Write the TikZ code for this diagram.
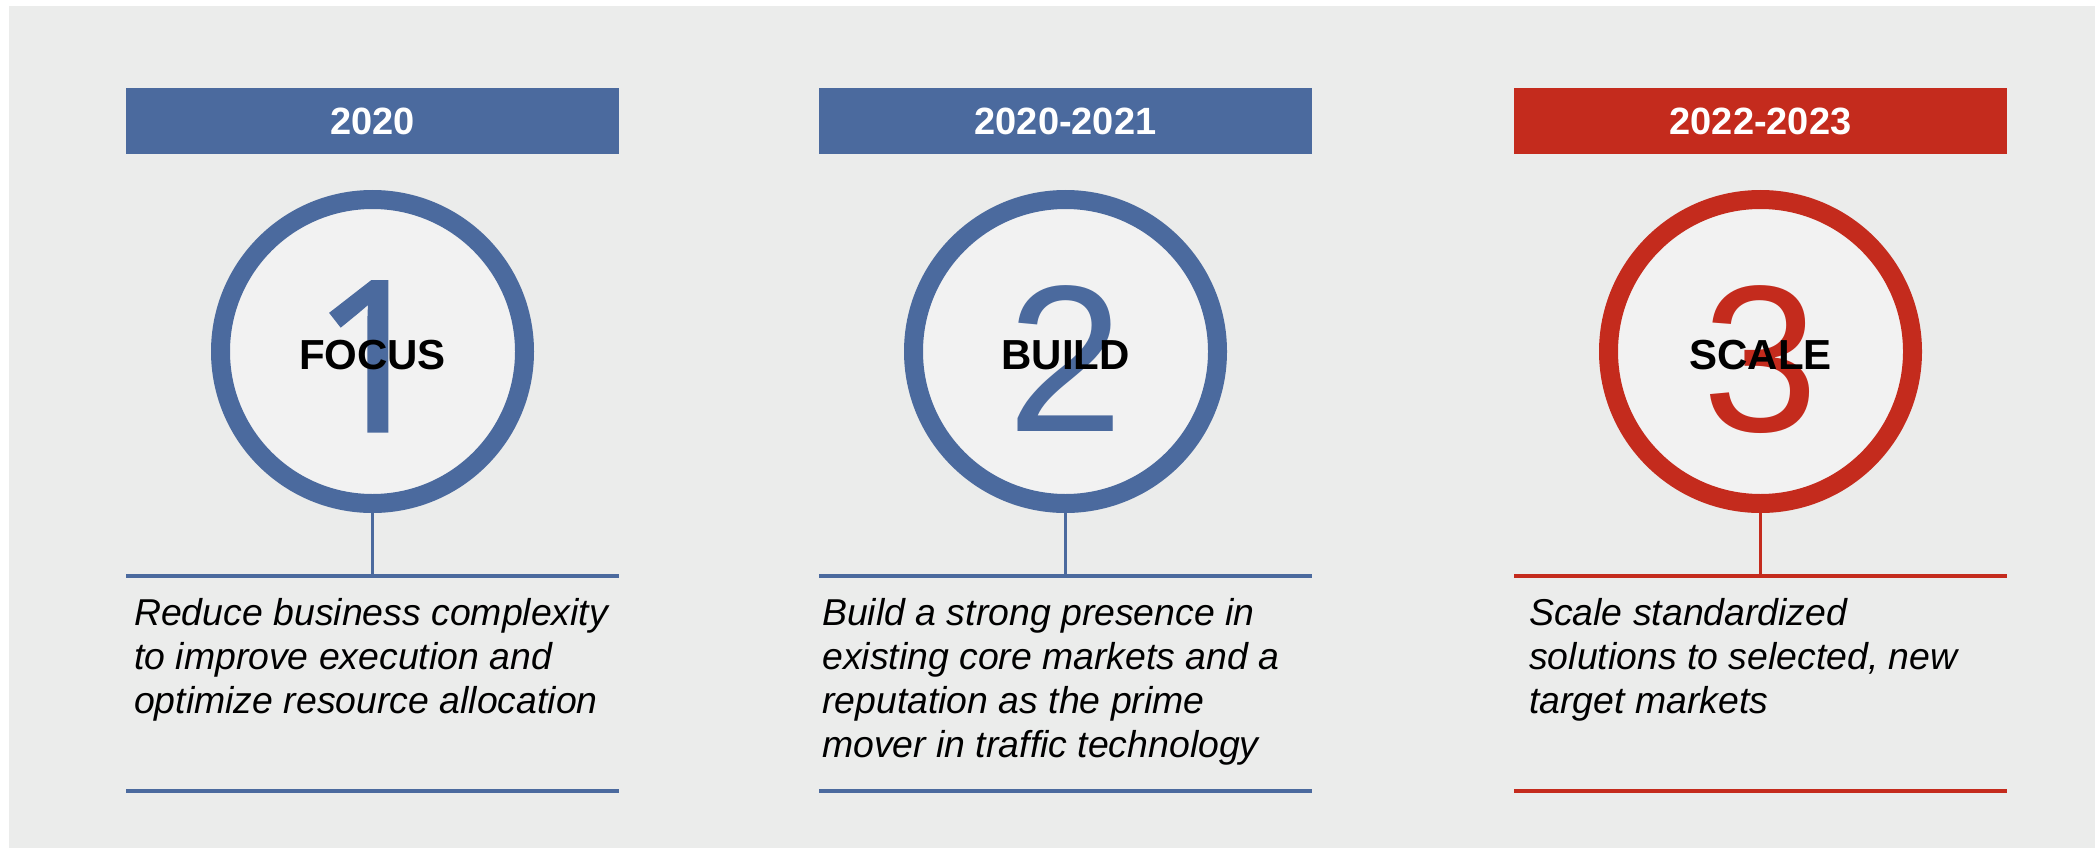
\documentclass[tikz,border=0pt]{standalone}
\usepackage{fontspec}
\setmainfont{Liberation Sans}
\newfontfamily\onefont{Noto Sans}[FakeBold=1.5]
\usetikzlibrary{calc, positioning}

\definecolor{stageblue}{RGB}{75,106,158}
\definecolor{stagered}{RGB}{196,43,29}
\definecolor{panelgrey}{RGB}{235,236,235}
\definecolor{discgrey}{RGB}{242,242,242}

\tikzset{
  yearbar/.style={rectangle, fill=#1, minimum width=493pt, minimum height=66pt,
    inner sep=0pt, text=white, font=\fontsize{38}{44}\selectfont\bfseries},
  disc/.style={circle, draw=#1, fill=discgrey, line width=19pt,
    minimum size=304pt, inner sep=0pt},
  bignum/.style={text=#1, inner sep=0pt, font=\fontsize{209}{209}\selectfont},
  stagename/.style={inner sep=0pt, font=\fontsize{42}{48}\selectfont\bfseries},
  rule/.style={draw=#1, line width=4pt},
  stem/.style={draw=#1, line width=3pt},
  blurb/.style={anchor=north west, align=left, inner sep=0pt,
    font=\fontsize{37.4}{44}\selectfont\itshape},
}

\begin{document}
\begin{tikzpicture}[x=1pt, y=-1pt]
\useasboundingbox (0,0) rectangle (2095,848);
\fill[white] (0,0) rectangle (2095,848);
\fill[panelgrey] (9,6) rectangle (2095,848);
% three stages: year bar, ring with number, rules
\foreach \i/\x/\col/\yr/\num/\word in {1/372.5/stageblue/2020/{\onefont 1}/FOCUS,
    2/1065.5/stageblue/2020-2021/2/BUILD, 3/1760.5/stagered/2022-2023/3/SCALE} {
  \node[yearbar=\col] (bar\i) at (\x,121) {\yr};
  \coordinate (top\i) at (\x,576);
  \draw[rule=\col] ($(top\i)+(-246.5,0)$) -- ($(top\i)+(246.5,0)$);
  \draw[rule=\col] (\x-246.5,791) -- (\x+246.5,791);
  \node[disc=\col] (disc\i) at (\x,351.5) {};
  \draw[stem=\col] (disc\i.south) -- (top\i);
  \node[bignum=\col, anchor=base] (num\i) at (\x,431) {\num};
  \node[stagename, anchor=base] (name\i) at (\x,369) {\word};
}
% descriptions
\node[blurb] (text1) at (134,594) {\strut Reduce business complexity\\
  to improve execution and\\optimize resource allocation};
\node[blurb] (text2) at (822,594) {\strut Build a strong presence in\\
  existing core markets and a\\reputation as the prime\\mover in traffic technology};
\node[blurb] (text3) at (1529,594) {\strut Scale standardized\\
  solutions to selected, new\\target markets};
\end{tikzpicture}
\end{document}
